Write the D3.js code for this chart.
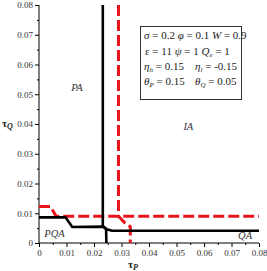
<!DOCTYPE html>
<html>
<head>
<meta charset="utf-8">
<script src="https://cdn.jsdelivr.net/npm/d3@7"></script>
<style>
  body { margin: 0; background: #fff; }
  text { font-family: "Liberation Serif", "DejaVu Serif", serif; }
</style>
</head>
<body>
<div id="chart"></div>
<script>
// chart size and margins
const width = 267;
const height = 271;
const margin = {left: 39, right: 8, top: 5, bottom: 28};

// axis ticks
const xTicks = [0, 0.01, 0.02, 0.03, 0.04, 0.05, 0.06, 0.07, 0.08];
const yTicks = [0, 0.01, 0.02, 0.03, 0.04, 0.05, 0.06, 0.07, 0.08];
const minorTicks = [0.005, 0.015, 0.025, 0.035, 0.045, 0.055, 0.065, 0.075];

// boundary curves [tauP, tauQ]
const blackH = [[0, 0.0086], [0.0097, 0.0086], [0.0121, 0.0054], [0.0232, 0.0055],
                [0.0246, 0.0046], [0.0266, 0.0041], [0.08, 0.0041]];
const blackV = [[0.0232, 0.08], [0.0232, 0.0057], [0.0244, 0.0048], [0.0245, 0]];
const redH = [[0, 0.0123], [0.0042, 0.0123], [0.0062, 0.009], [0.08, 0.009]];
const redV = [[0.0289, 0.08], [0.0289, 0.009], [0.0312, 0.0068], [0.0332, 0.0055], [0.0332, 0]];

// region labels
const regions = [
  {name: "PA", x: 0.0117, y: 0.0511},
  {name: "IA", x: 0.0525, y: 0.0380},
  {name: "PQA", x: 0.0019, y: 0.0020},
  {name: "QA", x: 0.0724, y: 0.0013}
];

const svg = d3.select("#chart")
  .append("svg")
  .attr("width", width)
  .attr("height", height);

const x = d3.scaleLinear()
  .domain([0, 0.08])
  .range([margin.left, width - margin.right]);

const y = d3.scaleLinear()
  .domain([0, 0.08])
  .range([height - margin.bottom, margin.top]);

// y axis
const yAxis = svg.append("g")
  .attr("transform", `translate(${margin.left},0)`)
  .call(d3.axisLeft(y).tickValues(yTicks).tickSize(4).tickFormat(d => d === 0 ? "0" : d3.format(".2f")(d)));
yAxis.selectAll("text").attr("font-size", 9).attr("fill", "#333").attr("x", -6);
yAxis.select(".domain").attr("d", `M0,${y(0)}V${y(0.08)}`);
svg.append("g")
  .attr("transform", `translate(${margin.left},0)`)
  .call(d3.axisLeft(y).tickValues(minorTicks).tickSize(2).tickFormat(""))
  .select(".domain").remove();

// x axis
const xAxis = svg.append("g")
  .attr("transform", `translate(0,${y(0)})`)
  .call(d3.axisBottom(x).tickValues(xTicks).tickSize(4).tickFormat(d => d === 0 ? "0" : d3.format(".2f")(d)));
xAxis.selectAll("text").attr("font-size", 9).attr("fill", "#333").attr("y", 7);
xAxis.select(".domain").attr("d", `M${x(0)},0H${x(0.08)}`);
svg.append("g")
  .attr("transform", `translate(0,${y(0)})`)
  .call(d3.axisBottom(x).tickValues(minorTicks).tickSize(2).tickFormat(""))
  .select(".domain").remove();

// curves
const line = d3.line().x(d => x(d[0])).y(d => y(d[1]));

[redH, redV].forEach(pts => {
  svg.append("path")
    .attr("d", line(pts))
    .attr("fill", "none")
    .attr("stroke", "#e8141c")
    .attr("stroke-width", 3)
    .attr("stroke-dasharray", "11,4");
});

[blackH, blackV].forEach(pts => {
  svg.append("path")
    .attr("d", line(pts))
    .attr("fill", "none")
    .attr("stroke", "#000")
    .attr("stroke-width", 2.6)
    .attr("stroke-linejoin", "round");
});

// region labels
svg.selectAll(".region")
  .data(regions)
  .enter()
  .append("text")
  .attr("class", "region")
  .attr("x", d => x(d.x))
  .attr("y", d => y(d.y))
  .attr("font-size", 10.5)
  .attr("font-style", "italic")
  .attr("fill", "#333")
  .text(d => d.name);

// parameter box
svg.append("rect")
  .attr("x", 140.5).attr("y", 26.5)
  .attr("width", 101).attr("height", 73)
  .attr("fill", "#fff")
  .attr("stroke", "#333")
  .attr("stroke-width", 1);

const box = svg.append("g").attr("font-size", 11).attr("fill", "#222");

const t1 = box.append("text").attr("x", 144).attr("y", 39);
t1.append("tspan").attr("font-style", "italic").text("σ");
t1.append("tspan").text(" = 0.2 ");
t1.append("tspan").attr("font-style", "italic").text("φ");
t1.append("tspan").text(" = 0.1 ");
t1.append("tspan").attr("font-style", "italic").text("W");
t1.append("tspan").text(" = 0.9");

const t2 = box.append("text").attr("x", 145).attr("y", 55);
t2.append("tspan").text("ε = 11  ");
t2.append("tspan").attr("font-style", "italic").text("ψ");
t2.append("tspan").text(" = 1 ");
t2.append("tspan").attr("font-style", "italic").text("Q");
t2.append("tspan").attr("font-style", "italic").attr("font-size", 7).attr("dy", 2).text("e");
t2.append("tspan").attr("dy", -2).text(" = 1");

function subLine(xPos, yPos, sym, sub, val) {
  const t = box.append("text").attr("x", xPos).attr("y", yPos);
  t.append("tspan").attr("font-style", "italic").text(sym);
  t.append("tspan").attr("font-style", "italic").attr("font-size", 7).attr("dy", 2).text(sub);
  t.append("tspan").attr("dy", -2).text(" = " + val);
}
subLine(144, 70, "η", "h", "0.15");
subLine(195, 70, "η", "l", "-0.15");
subLine(144, 85, "θ", "P", "0.15");
subLine(195, 85, "θ", "Q", "0.05");

// axis titles
const xt = svg.append("text").attr("x", 128).attr("y", 268).attr("font-size", 11).attr("font-weight", "bold").attr("fill", "#222");
xt.append("tspan").text("τ");
xt.append("tspan").attr("font-style", "italic").attr("font-size", 8).attr("dy", 2).text("P");

const yt = svg.append("text").attr("x", 2).attr("y", 127).attr("font-size", 11).attr("font-weight", "bold").attr("fill", "#222");
yt.append("tspan").text("τ");
yt.append("tspan").attr("font-style", "italic").attr("font-size", 8).attr("dy", 2).text("Q");
</script>
</body>
</html>
